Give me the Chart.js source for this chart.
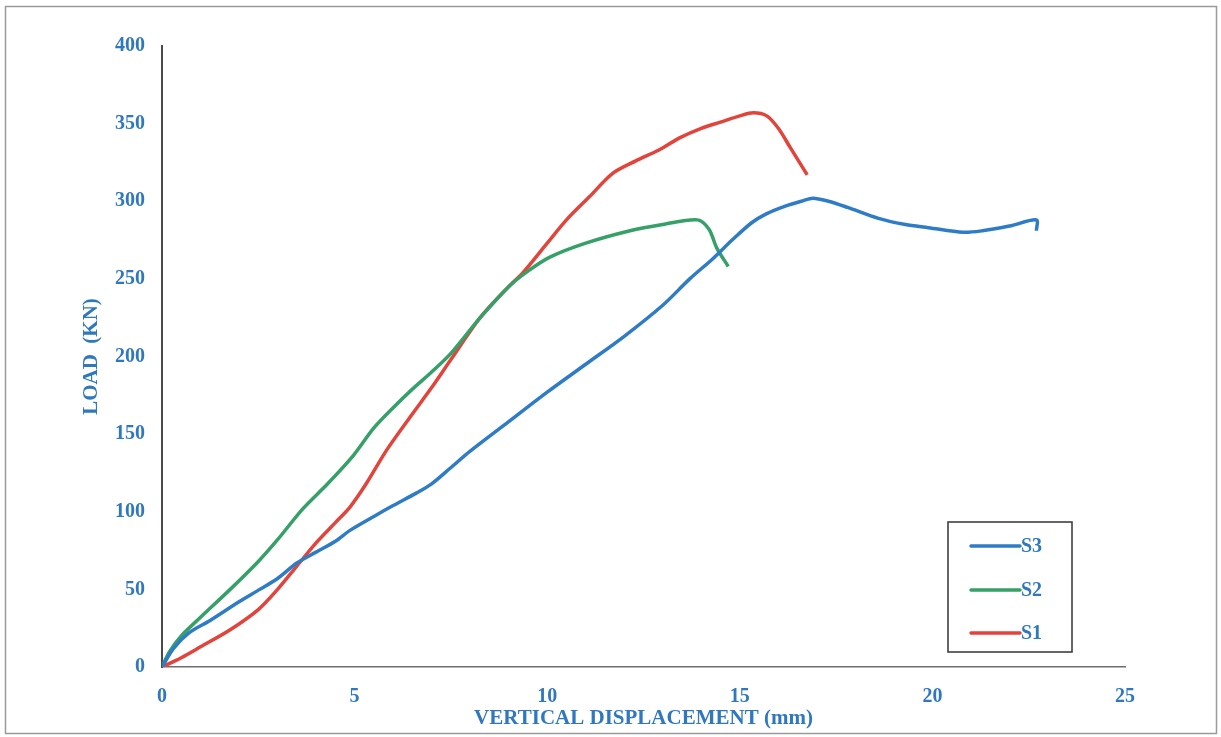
<!DOCTYPE html>
<html lang="en">
<head>
    <meta charset="UTF-8">
    <title>Load vs Vertical Displacement</title>
    <style>
        body {
            margin: 0;
            padding: 0;
            background-color: #fff;
        }

        .container {
            width: 1221px;
            height: 737px;
            position: relative;
        }
    </style>
</head>
<body>
    <div class="container">
        <canvas id="load-chart" width="1221" height="737"></canvas>
    </div>

    <script src="https://cdn.jsdelivr.net/npm/chart.js"></script>
    <script>
        // series: [displacement mm, load kN]
        const seriesNames = ['S3', 'S2', 'S1'];
        const seriesColors = ['#2f7cc6', '#35a067', '#e2443c'];

        const s3Disp = [0, 0.3, 0.7, 1.25, 2, 2.54, 3, 3.5, 4, 4.5, 4.88, 5.5, 6, 6.6, 7, 7.48, 8, 9, 10, 11, 12, 13, 13.7, 14.3, 14.8, 15.3, 15.7, 16.2, 16.6, 16.9, 17.3, 17.8, 18.6, 19.3, 19.9, 20.8, 21.3, 22, 22.7, 22.7];
        const s3Load = [0, 12, 22, 30, 42, 50, 57, 67, 74, 81, 88, 97, 104, 112, 118, 128, 139, 158, 177, 195, 213, 233, 250, 263, 275, 286, 292, 297, 300, 302, 300, 296, 289, 285, 283, 280, 281, 284, 288, 281];

        const s2Disp = [0, 0.2, 0.5, 1, 1.77, 2.5, 3, 3.66, 4.3, 4.96, 5.5, 6, 6.5, 7, 7.5, 8.26, 9, 9.5, 10.07, 11, 12.15, 13, 13.9, 14.2, 14.4, 14.7];
        const s2Load = [0, 10, 20, 32, 50, 68, 82, 102, 118, 136, 154, 167, 179, 190, 202, 225, 245, 255, 264, 273, 281, 285, 288, 282, 270, 258];

        const s1Disp = [0, 0.5, 1, 1.77, 2.5, 3, 3.5, 4, 4.5, 4.88, 5.3, 5.84, 6.5, 7, 7.5, 8.26, 9, 9.37, 10, 10.5, 11.1, 11.7, 12.3, 12.9, 13.45, 14, 14.5, 15, 15.35, 15.7, 16, 16.3, 16.75];
        const s1Load = [0, 6, 13, 24, 37, 50, 65, 80, 93, 103, 118, 140, 163, 180, 198, 225, 245, 254, 273, 288, 303, 318, 326, 333, 341, 347, 351, 355, 357, 355, 347, 335, 317];

        const xTicks = [0, 5, 10, 15, 20, 25];
        const yTicks = [0, 50, 100, 150, 200, 250, 300, 350, 400];

        const textColor = '#2f78c0';
        const serif = "'Liberation Serif', 'Times New Roman', serif";

        function toPoints(xs, ys) {
            return xs.map((x, i) => ({ x: x, y: ys[i] }));
        }

        const allDisp = [s3Disp, s2Disp, s1Disp];
        const allLoad = [s3Load, s2Load, s1Load];

        const datasets = seriesNames.map((name, i) => ({
            label: name,
            data: toPoints(allDisp[i], allLoad[i]),
            borderColor: seriesColors[i],
            backgroundColor: seriesColors[i],
            borderWidth: 3.5,
            pointRadius: 0,
            showLine: true,
            tension: 0.3,
        }));

        // outer frame and white page
        const framePlugin = {
            id: 'frame',
            beforeDraw(chart) {
                const ctx = chart.ctx;
                ctx.save();
                ctx.fillStyle = '#fff';
                ctx.fillRect(0, 0, chart.width, chart.height);
                ctx.strokeStyle = '#9a9a9a';
                ctx.lineWidth = 1.5;
                ctx.strokeRect(5.5, 6.5, 1211, 727);
                ctx.restore();
            },
        };

        // boxed legend inside the plot, lower right
        const boxLegend = {
            id: 'boxLegend',
            afterDatasetsDraw(chart) {
                const ctx = chart.ctx;
                ctx.save();
                ctx.strokeStyle = '#333';
                ctx.lineWidth = 1.5;
                ctx.fillStyle = '#fff';
                ctx.fillRect(948, 522, 124, 130);
                ctx.strokeRect(948, 522, 124, 130);
                const rows = [546, 590, 633];
                ctx.font = 'bold 20px ' + serif;
                ctx.textBaseline = 'middle';
                seriesNames.forEach((name, i) => {
                    ctx.strokeStyle = seriesColors[i];
                    ctx.lineWidth = 3.5;
                    ctx.lineCap = 'round';
                    ctx.beginPath();
                    ctx.moveTo(971, rows[i]);
                    ctx.lineTo(1020, rows[i]);
                    ctx.stroke();
                    ctx.fillStyle = textColor;
                    ctx.fillText(name, 1021, rows[i] + 1);
                });
                ctx.restore();
            },
        };

        const ctx = document.getElementById('load-chart').getContext('2d');
        new Chart(ctx, {
            type: 'scatter',
            data: { datasets: datasets },
            options: {
                responsive: false,
                animation: false,
                layout: {
                    padding: { top: 46, right: 96, bottom: 0, left: 0 },
                },
                plugins: {
                    legend: { display: false },
                    tooltip: { enabled: false },
                },
                scales: {
                    x: {
                        type: 'linear',
                        min: 0,
                        max: 25,
                        afterBuildTicks: (scale) => {
                            scale.ticks = xTicks.map((v) => ({ value: v }));
                        },
                        afterFit: (scale) => {
                            scale.height = 70;
                        },
                        grid: { display: false, drawTicks: false },
                        border: { display: true, color: '#6e6e6e', width: 1.5 },
                        ticks: {
                            color: textColor,
                            padding: 18,
                            font: { family: serif, size: 20, weight: 'bold' },
                        },
                        title: {
                            display: true,
                            text: 'VERTICAL DISPLACEMENT (mm)',
                            color: textColor,
                            padding: { top: 0, bottom: 6 },
                            font: { family: serif, size: 21, weight: 'bold' },
                        },
                    },
                    y: {
                        type: 'linear',
                        min: 0,
                        max: 400,
                        afterBuildTicks: (scale) => {
                            scale.ticks = yTicks.map((v) => ({ value: v }));
                        },
                        afterFit: (scale) => {
                            scale.width = 162;
                        },
                        grid: { display: false, drawTicks: false },
                        border: { display: true, color: '#4a4a4a', width: 2 },
                        ticks: {
                            color: textColor,
                            padding: 17,
                            font: { family: serif, size: 20, weight: 'bold' },
                        },
                        title: {
                            display: true,
                            text: 'LOAD  (KN)',
                            color: textColor,
                            padding: { top: 79, bottom: 0 },
                            font: { family: serif, size: 21, weight: 'bold' },
                        },
                    },
                },
            },
            plugins: [framePlugin, boxLegend],
        });
    </script>
</body>
</html>
